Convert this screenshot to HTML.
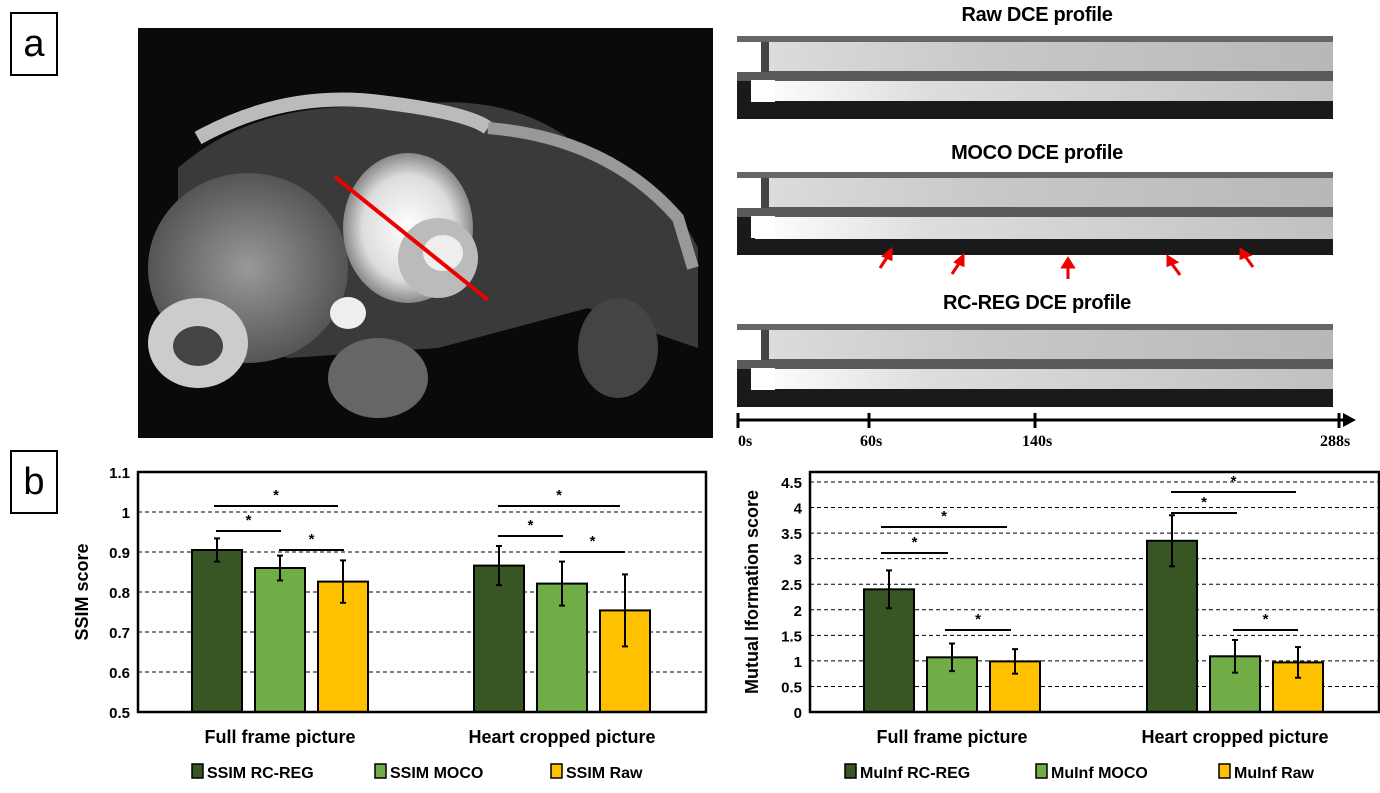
<!DOCTYPE html>
<html><head><meta charset="utf-8"><style>
body{margin:0;background:#fff;width:1380px;height:793px;overflow:hidden;position:relative;font-family:"Liberation Sans",Arial,sans-serif}
.abs{position:absolute}
.lbl{border:2px solid #000;width:48px;height:64px;font-size:38px;text-align:center;line-height:60px;box-sizing:border-box;background:#fff}
.ttl{font-weight:bold;font-size:20px;text-align:center;width:600px;left:737px;letter-spacing:-0.3px}
.strip{left:737px;width:596px;height:83px;background:#1a1a1a;overflow:hidden}
.strip div{position:absolute}
</style></head><body>
<div class="abs lbl" style="left:10px;top:12px">a</div>
<div class="abs lbl" style="left:10px;top:450px">b</div>

<svg class="abs" style="left:138px;top:28px" width="575" height="410">
<defs>
<radialGradient id="g1"><stop offset="0" stop-color="#999"/><stop offset="1" stop-color="#555"/></radialGradient>
<radialGradient id="g2"><stop offset="0" stop-color="#fff"/><stop offset="0.7" stop-color="#ddd"/><stop offset="1" stop-color="#888"/></radialGradient>
</defs>
<rect width="575" height="410" fill="#0a0a0a"/>
<path d="M40,140 Q120,70 250,80 Q360,60 430,110 Q520,140 560,220 L560,320 Q500,300 450,280 L300,320 L150,330 L40,300 Z" fill="#3a3a3a"/>
<path d="M60,110 Q150,60 250,75 Q330,85 350,100" stroke="#bbb" stroke-width="14" fill="none"/>
<path d="M350,100 Q470,110 540,190 L555,240" stroke="#999" stroke-width="12" fill="none"/>
<ellipse cx="110" cy="240" rx="100" ry="95" fill="url(#g1)"/>
<ellipse cx="250" cy="200" rx="30" ry="60" fill="#777"/>
<ellipse cx="270" cy="200" rx="65" ry="75" fill="url(#g2)"/>
<ellipse cx="300" cy="230" rx="40" ry="40" fill="#bbb"/>
<ellipse cx="305" cy="225" rx="20" ry="18" fill="#eee"/>
<ellipse cx="60" cy="315" rx="50" ry="45" fill="#ccc"/>
<ellipse cx="60" cy="318" rx="25" ry="20" fill="#444"/>
<ellipse cx="210" cy="285" rx="18" ry="16" fill="#eee"/>
<ellipse cx="240" cy="350" rx="50" ry="40" fill="#666"/>
<ellipse cx="480" cy="320" rx="40" ry="50" fill="#444"/>
<line x1="197" y1="149" x2="350" y2="272" stroke="#e00" stroke-width="4"/>
</svg>

<div class="abs ttl" style="top:4px">Raw DCE profile</div>
<div class="abs ttl" style="top:142px">MOCO DCE profile</div>
<div class="abs ttl" style="top:292px">RC-REG DCE profile</div>

<div class="abs strip" style="top:36px">
<div style="left:0;top:0;width:596px;height:6px;background:#666"></div>
<div style="left:20px;top:6px;width:576px;height:29px;background:linear-gradient(90deg,#ddd,#c8c8c8 40%,#b8b8b8)"></div>
<div style="left:0;top:35px;width:596px;height:10px;background:#5a5a5a"></div>
<div style="left:18px;top:45px;width:578px;height:20px;background:linear-gradient(90deg,#fff,#ddd 30%,#c0c0c0)"></div>
<div style="left:0;top:6px;width:24px;height:30px;background:#fff"></div>
<div style="left:24px;top:6px;width:8px;height:30px;background:#444"></div>
<div style="left:14px;top:44px;width:24px;height:22px;background:#fff"></div>
</div>
<div class="abs strip" style="top:172px">
<div style="left:0;top:0;width:596px;height:6px;background:#666"></div>
<div style="left:20px;top:6px;width:576px;height:29px;background:linear-gradient(90deg,#ddd,#c8c8c8 40%,#b8b8b8)"></div>
<div style="left:0;top:35px;width:596px;height:10px;background:#5a5a5a"></div>
<div style="left:18px;top:45px;width:578px;height:22px;background:linear-gradient(90deg,#fff,#ddd 30%,#c0c0c0)"></div>
<div style="left:0;top:6px;width:24px;height:30px;background:#fff"></div>
<div style="left:24px;top:6px;width:8px;height:30px;background:#444"></div>
<div style="left:14px;top:44px;width:24px;height:22px;background:#fff"></div>
</div>
<div class="abs strip" style="top:324px">
<div style="left:0;top:0;width:596px;height:6px;background:#666"></div>
<div style="left:20px;top:6px;width:576px;height:29px;background:linear-gradient(90deg,#ddd,#c8c8c8 40%,#b8b8b8)"></div>
<div style="left:0;top:35px;width:596px;height:10px;background:#5a5a5a"></div>
<div style="left:18px;top:45px;width:578px;height:20px;background:linear-gradient(90deg,#fff,#ddd 30%,#c0c0c0)"></div>
<div style="left:0;top:6px;width:24px;height:30px;background:#fff"></div>
<div style="left:24px;top:6px;width:8px;height:30px;background:#444"></div>
<div style="left:14px;top:44px;width:24px;height:22px;background:#fff"></div>
</div>

<svg class="abs" style="left:0;top:0" width="1380" height="793">
<g stroke="#e00" stroke-width="3" fill="#e00">
<line x1="880" y1="268" x2="888" y2="256"/><polygon points="891,250 884,256 891,259"/>
<line x1="952" y1="274" x2="960" y2="262"/><polygon points="963,256 956,262 963,265"/>
<line x1="1068" y1="279" x2="1068" y2="266"/><polygon points="1068,259 1063,267 1073,267"/>
<line x1="1180" y1="275" x2="1172" y2="264"/><polygon points="1168,257 1168,265 1176,262"/>
<line x1="1253" y1="267" x2="1245" y2="256"/><polygon points="1241,250 1241,258 1249,255"/>
</g>
<line x1="738" y1="420" x2="1345" y2="420" stroke="#000" stroke-width="3"/>
<polygon points="1356,420 1343,413 1343,427" fill="#000"/>
<g stroke="#000" stroke-width="3"><line x1="738" y1="413" x2="738" y2="428"/><line x1="869" y1="413" x2="869" y2="428"/><line x1="1035" y1="413" x2="1035" y2="428"/><line x1="1339" y1="413" x2="1339" y2="428"/></g>
<g font-family="Liberation Serif,serif" font-weight="bold" font-size="16">
<text x="738" y="446">0s</text>
<text x="860" y="446">60s</text>
<text x="1022" y="446">140s</text>
<text x="1320" y="446">288s</text>
</g>
</svg>

<svg id="c1" class="abs" style="left:0;top:0" width="1380" height="793"></svg>

<script>
const ssimCategories=["Full frame picture","Heart cropped picture"];
const ssimSeries=["SSIM RC-REG","SSIM MOCO","SSIM Raw"];
const ssimRC=[0.905,0.866];
const ssimMOCO=[0.860,0.821];
const ssimRaw=[0.826,0.754];
const ssimErrRC=[0.029,0.049];
const ssimErrMOCO=[0.031,0.055];
const ssimErrRaw=[0.053,0.090];
const ssimTicks=[0.5,0.6,0.7,0.8,0.9,1,1.1];
const miCategories=["Full frame picture","Heart cropped picture"];
const miSeries=["MuInf RC-REG","MuInf MOCO","MuInf Raw"];
const miRC=[2.40,3.35];
const miMOCO=[1.07,1.09];
const miRaw=[0.99,0.97];
const miErrRC=[0.37,0.50];
const miErrMOCO=[0.27,0.32];
const miErrRaw=[0.24,0.30];
const miTicks=[0,0.5,1,1.5,2,2.5,3,3.5,4,4.5];

const colors=["#375623","#70ad47","#ffc000"];
const NS="http://www.w3.org/2000/svg";
const svg=document.getElementById('c1');
function mk(t,a,p){const e=document.createElementNS(NS,t);for(const k in a)e.setAttribute(k,a[k]);(p||svg).appendChild(e);return e;}

function drawChart(cfg){
  const {x0,x1,yTop,yBot,vMin,vTop,vTickTop,ticks,cats,series,vals,errs,groupStarts,ylabel,ylabelX,legendX,sig,name}=cfg;
  const y=v=>yBot-(v-vMin)/(vTop-vMin)*(yBot-yTop);
  ticks.forEach(t=>{
    if(t!==vMin){const l=mk('line',{x1:x0,x2:x1,y1:y(t),y2:y(t),stroke:'#000','stroke-width':1,'stroke-dasharray':'4,3'});
    
    }
    const tx=mk('text',{x:x0-8,y:y(t)+6,'text-anchor':'end','font-size':15,'font-weight':'bold','font-family':'Liberation Sans,sans-serif'});
    tx.textContent=t;
    
    
  });
  const bw=50,gap=63;
  cats.forEach((c,ci)=>{
    series.forEach((s,si)=>{
      const bx=groupStarts[ci]+si*gap,v=vals[si][ci],e=errs[si][ci];
      const r=mk('rect',{x:bx,y:y(v),width:bw,height:yBot-y(v),fill:colors[si],stroke:'#000','stroke-width':2});
      
      
      const cx=bx+bw/2;
      mk('line',{x1:cx,x2:cx,y1:y(v+e),y2:y(v-e),stroke:'#000','stroke-width':2});
      mk('line',{x1:cx-3,x2:cx+3,y1:y(v+e),y2:y(v+e),stroke:'#000','stroke-width':2});
      mk('line',{x1:cx-3,x2:cx+3,y1:y(v-e),y2:y(v-e),stroke:'#000','stroke-width':2});
    });
    const t=mk('text',{x:groupStarts[ci]+88,y:743,'text-anchor':'middle','font-size':18,'font-weight':'bold','font-family':'Liberation Sans,sans-serif'});
    t.textContent=c;
    
    
  });
  sig.forEach(s=>{
    mk('line',{x1:s[0],x2:s[1],y1:s[2],y2:s[2],stroke:'#000','stroke-width':2});
    const t=mk('text',{x:(s[0]+s[1])/2,y:s[2]-6,'text-anchor':'middle','font-size':15,'font-weight':'bold'});t.textContent='*';
    
    
  });
  const box=mk('rect',{x:x0,y:yTop-(y(vTickTop)-yTop<0?0:0),width:x1-x0,height:yBot-cfg.boxTop,fill:'none',stroke:'#000','stroke-width':2.5});
  box.setAttribute('y',cfg.boxTop);
  
  
  const yl=mk('text',{x:0,y:0,transform:`translate(${ylabelX},${(cfg.boxTop+yBot)/2}) rotate(-90)`,'text-anchor':'middle','font-size':18,'font-weight':'bold'});
  yl.textContent=ylabel;
  
  
  series.forEach((s,si)=>{
    const lx=legendX[si];
    const r=mk('rect',{x:lx,y:764,width:11,height:14,fill:colors[si],stroke:'#000','stroke-width':1.5});
    
    
    const t=mk('text',{x:lx+15,y:778,'font-size':16,'font-weight':'bold'});t.textContent=s;
    
    
  });
}
drawChart({name:'ssim',x0:138,x1:706,boxTop:472,yTop:472,yBot:712,vMin:0.5,vTop:1.1,vTickTop:1.1,ticks:ssimTicks,cats:ssimCategories,series:ssimSeries,
 vals:[ssimRC,ssimMOCO,ssimRaw],errs:[ssimErrRC,ssimErrMOCO,ssimErrRaw],groupStarts:[192,474],ylabel:'SSIM score',ylabelX:88,legendX:[192,375,551],
 sig:[[214,338,506],[216,281,531],[279,344,550],[498,620,506],[498,563,536],[560,625,552]]});
drawChart({name:'mi',x0:810,x1:1379,boxTop:472,yTop:482,yBot:712,vMin:0,vTop:4.5,vTickTop:4.5,ticks:miTicks,cats:miCategories,series:miSeries,
 vals:[miRC,miMOCO,miRaw],errs:[miErrRC,miErrMOCO,miErrRaw],groupStarts:[864,1147],ylabel:'Mutual Iformation score',ylabelX:758,legendX:[845,1036,1219],
 sig:[[881,1007,527],[881,948,553],[945,1011,630],[1171,1296,492],[1171,1237,513],[1233,1298,630]]});
</script>
</body></html>
